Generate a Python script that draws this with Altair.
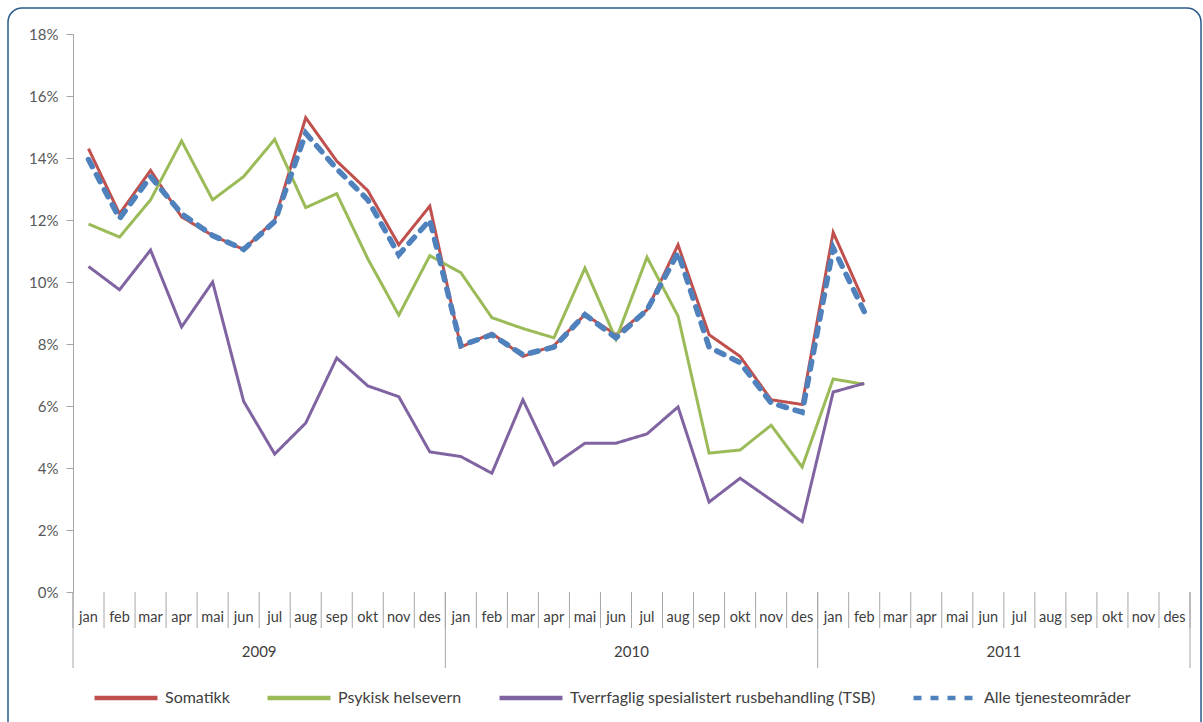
import altair as alt
import pandas as pd

# ---- data (percent) ----
month_names = ["jan", "feb", "mar", "apr", "mai", "jun", "jul", "aug", "sep", "okt", "nov", "des"]
years = ["2009", "2010", "2011"]
series_names = ["Somatikk", "Psykisk helsevern",
                "Tverrfaglig spesialistert rusbehandling (TSB)", "Alle tjenesteområder"]
series_colors = ["#C0504D", "#9BBB59", "#8064A2", "#4F81BD"]

somatikk = [14.3, 12.2, 13.6, 12.1, 11.5, 11.05, 12.0, 15.3, 13.9, 12.95, 11.2, 12.45,
            7.9, 8.35, 7.6, 7.95, 8.95, 8.3, 9.1, 11.2, 8.3, 7.6, 6.2, 6.05,
            11.6, 9.35]
psykisk = [11.87, 11.45, 12.65, 14.55, 12.65, 13.4, 14.6, 12.4, 12.85, 10.75, 8.93, 10.85,
           10.3, 8.85, 8.5, 8.2, 10.45, 8.15, 10.8, 8.9, 4.48, 4.58, 5.38, 4.03,
           6.87, 6.7]
tsb = [10.5, 9.75, 11.03, 8.55, 10.0, 6.15, 4.45, 5.45, 7.55, 6.65, 6.3, 4.52,
       4.37, 3.83, 6.2, 4.1, 4.8, 4.8, 5.1, 5.97, 2.9, 3.67, 2.97, 2.27,
       6.45, 6.73]
alle = [13.95, 12.05, 13.4, 12.2, 11.5, 11.05, 11.95, 14.8, 13.65, 12.65, 10.88, 12.0,
        7.95, 8.3, 7.65, 7.9, 8.95, 8.2, 9.1, 10.95, 7.9, 7.4, 6.1, 5.8,
        11.1, 9.05]

W, H = 1117, 558
FONT = "Lato"

rows = []
for name, vals in zip(series_names, [somatikk, psykisk, tsb, alle]):
    for i, v in enumerate(vals):
        rows.append({"idx": i, "value": v / 100.0, "series": name})
lines_df = pd.DataFrame(rows)

n_months = len(month_names) * len(years)
months_df = pd.DataFrame({"idx": list(range(n_months)),
                          "label": month_names * len(years)})
sep_df = pd.DataFrame({"b": [i - 0.5 for i in range(n_months + 1)]})
ysep_df = pd.DataFrame({"b": [k * 12 - 0.5 for k in range(len(years) + 1)]})
years_df = pd.DataFrame({"pos": [k * 12 + 5.5 for k in range(len(years))], "label": years})

xscale = alt.Scale(domain=[-0.5, n_months - 0.5], nice=False, zero=False)
color_scale = alt.Scale(domain=series_names, range=series_colors)
dash_scale = alt.Scale(domain=series_names, range=[[1, 0], [1, 0], [1, 0], [8, 9]])

legend = alt.Legend(orient="none", legendX=19, legendY=630, direction="horizontal", title=None)

x_main = alt.X("idx:Q", scale=xscale,
               axis=alt.Axis(labels=False, ticks=False, grid=False, title=None,
                             domainColor="#A6A6A6", domainWidth=1))
y_main = alt.Y("value:Q", scale=alt.Scale(domain=[0, 0.18], nice=False),
               axis=alt.Axis(format=".0%", values=[i / 100 for i in range(0, 19, 2)],
                             grid=False, title=None, tickSize=7, tickColor="#A6A6A6",
                             domainColor="#A6A6A6", labelColor="#595959",
                             labelFontSize=15, labelPadding=8, labelFont=FONT))

solid = alt.Chart(lines_df).transform_filter(
    alt.datum.series != series_names[3]
).mark_line(strokeWidth=3).encode(
    x=x_main, y=y_main,
    color=alt.Color("series:N", scale=color_scale, legend=legend),
    strokeDash=alt.StrokeDash("series:N", scale=dash_scale, legend=legend),
)

dashed = alt.Chart(lines_df).transform_filter(
    alt.datum.series == series_names[3]
).mark_line(strokeWidth=5.5, strokeCap="round").encode(
    x=x_main, y=y_main,
    color=alt.Color("series:N", scale=color_scale, legend=legend),
    strokeDash=alt.StrokeDash("series:N", scale=dash_scale, legend=legend),
)

month_text = alt.Chart(months_df).mark_text(
    baseline="middle", fontSize=14.5, color="#404040", font=FONT
).encode(x=alt.X("idx:Q", scale=xscale, axis=None), y=alt.value(H + 26), text="label:N")

month_sep = alt.Chart(sep_df).mark_rule(color="#A6A6A6", strokeWidth=1).encode(
    x=alt.X("b:Q", scale=xscale, axis=None), y=alt.value(H), y2=alt.value(H + 36))

year_sep = alt.Chart(ysep_df).mark_rule(color="#A6A6A6", strokeWidth=1).encode(
    x=alt.X("b:Q", scale=xscale, axis=None), y=alt.value(H), y2=alt.value(H + 76))

year_text = alt.Chart(years_df).mark_text(
    baseline="middle", fontSize=15, color="#404040", font=FONT
).encode(x=alt.X("pos:Q", scale=xscale, axis=None), y=alt.value(H + 60), text="label:N")

frame = alt.Chart(pd.DataFrame({"a": [0]})).mark_rect(
    fillOpacity=0, stroke="#2C5A8C", strokeWidth=1.5, cornerRadius=14
).encode(x=alt.value(-65), x2=alt.value(1128), y=alt.value(-26), y2=alt.value(720))

chart = alt.layer(
    frame, month_sep, year_sep, month_text, year_text, solid, dashed
).properties(
    width=W, height=H, autosize="none",
    padding={"left": 73, "top": 34, "right": 13, "bottom": 130},
    background="white",
).configure_view(stroke=None).configure_legend(
    symbolType="stroke", symbolSize=3969, symbolStrokeWidth=4.5,
    labelFontSize=16, labelColor="#404040", labelFont=FONT,
    columnPadding=28, labelOffset=5, labelLimit=500,
)

chart.save("out.html", embed_options={"renderer": "svg", "actions": False})
